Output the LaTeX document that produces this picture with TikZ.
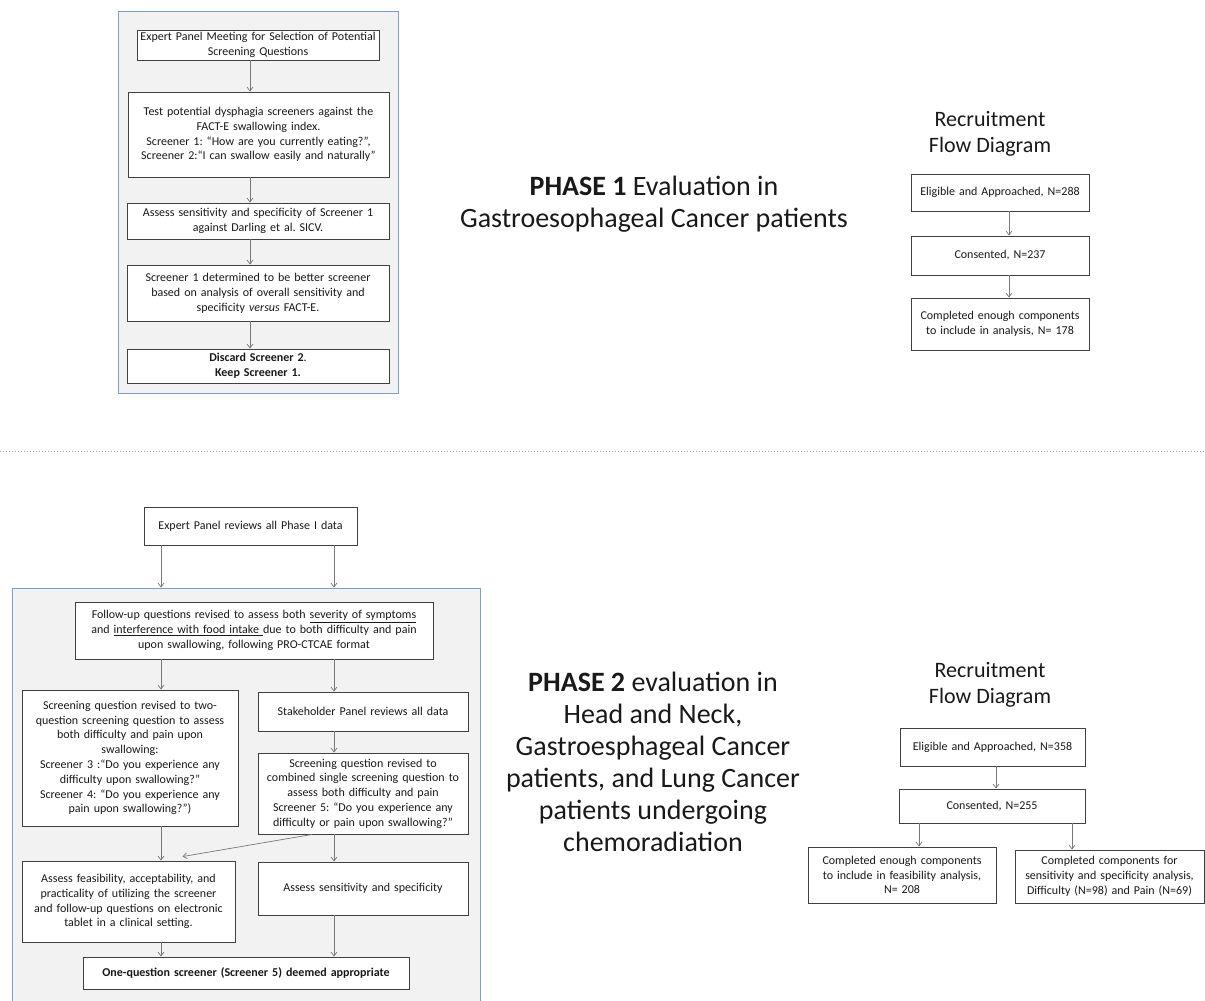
\documentclass[tikz,border=0pt]{standalone}
\usepackage{fontspec}
\setmainfont{Carlito}
\frenchspacing
\usetikzlibrary{arrows.meta, positioning}

\definecolor{framblue}{RGB}{125,158,200}
\definecolor{framfill}{RGB}{242,242,242}
\definecolor{boxline}{RGB}{64,64,64}
\definecolor{arrgray}{RGB}{120,120,120}
\definecolor{txt}{RGB}{25,25,25}

\tikzset{
    box/.style={draw=boxline, line width=0.9pt, fill=white, align=center, inner sep=0pt,
        text=txt, font=\fontsize{12}{14.8}\selectfont},
    frame/.style={draw=framblue, line width=0.8pt, fill=framfill, inner sep=0pt},
    arr/.style={draw=arrgray, line width=0.7pt, -{Straight Barb[length=4pt,width=6pt]}},
    bigtxt/.style={align=center, text=txt, font=\fontsize{28}{32}\selectfont},
    heading/.style={align=center, text=txt, font=\fontsize{22}{26}\selectfont},
}

\begin{document}
\begin{tikzpicture}[x=1pt, y=-1pt]
    \useasboundingbox (0,0) rectangle (1205,1001);

    % phase 1
    \node[frame, minimum width=280pt, minimum height=382pt] (f1) at (258,202) {};
    \node[box, minimum width=242pt, minimum height=30pt, text width=238pt] (p1a) at (258,45)
        {Expert Panel Meeting for Selection of Potential\\Screening Questions};
    \node[box, minimum width=261pt, minimum height=85pt, text width=257pt] (p1b) at (258.5,134.5)
        {Test potential dysphagia screeners against the\\FACT-E swallowing index.\\Screener 1: “How are you currently eating?”,\\Screener 2:“I can swallow easily and naturally”};
    \node[box, minimum width=262pt, minimum height=36pt, text width=258pt] (p1c) at (258,221)
        {Assess sensitivity and specificity of Screener 1\\against Darling et al. SICV.};
    \node[box, minimum width=262pt, minimum height=56pt, text width=258pt] (p1d) at (258,293)
        {Screener 1 determined to be better screener\\based on analysis of overall sensitivity and\\specificity \textit{versus} FACT-E.};
    \node[box, minimum width=262pt, minimum height=34pt, text width=258pt] (p1e) at (258,366)
        {\textbf{Discard Screener 2}.\\\textbf{Keep Screener 1.}};

    \coordinate (p1x) at (250,0);
    \draw[arr] (p1a.south -| p1x) -- (p1b.north -| p1x);
    \draw[arr] (p1b.south -| p1x) -- (p1c.north -| p1x);
    \draw[arr] (p1c.south -| p1x) -- (p1d.north -| p1x);
    \draw[arr] (p1d.south -| p1x) -- (p1e.north -| p1x);

    \node[bigtxt] (ph1) at (654,204) {\textbf{PHASE 1} Evaluation in\\Gastroesophageal Cancer patients};

    \node[heading] (rt1) at (990,134) {Recruitment\\Flow Diagram};
    \node[box, minimum width=178pt, minimum height=37pt, text width=174pt] (r1a) at (1000,192.5)
        {Eligible and Approached, N=288};
    \node[box, minimum width=178pt, minimum height=39pt, text width=174pt] (r1b) at (1000,255.5)
        {Consented, N=237};
    \node[box, minimum width=178pt, minimum height=52pt, text width=174pt] (r1c) at (1000,324)
        {Completed enough components\\to include in analysis, N= 178};

    \coordinate (r1x) at (1009,0);
    \draw[arr] (r1a.south -| r1x) -- (r1b.north -| r1x);
    \draw[arr] (r1b.south -| r1x) -- (r1c.north -| r1x);

    % divider
    \draw[arrgray!70, line width=1pt, dotted] (0,451) -- (1205,451);

    % phase 2
    \node[box, minimum width=213pt, minimum height=38pt, text width=209pt] (p2a) at (250.5,526)
        {Expert Panel reviews all Phase I data};
    \node[frame, minimum width=468pt, minimum height=418pt] (f2) at (246,797) {};
    \node[box, minimum width=358pt, minimum height=57pt, text width=354pt] (p2b) at (254,630.5)
        {Follow-up questions revised to assess both \underline{severity of symptoms}\\and \underline{interference with food intake }due to both difficulty and pain\\upon swallowing, following PRO-CTCAE format};
    \node[box, minimum width=216pt, minimum height=136pt, text width=212pt] (p2c) at (130,758)
        {Screening question revised to two-\\question screening question to assess\\both difficulty and pain upon\\swallowing:\\Screener 3 :“Do you experience any\\difficulty upon swallowing?”\\Screener 4: “Do you experience any\\pain upon swallowing?”)};
    \node[box, minimum width=210pt, minimum height=39pt, text width=206pt] (p2d) at (363,711.5)
        {Stakeholder Panel reviews all data};
    \node[box, minimum width=210pt, minimum height=81pt, text width=206pt] (p2e) at (363,793.5)
        {Screening question revised to\\combined single screening question to\\assess both difficulty and pain\\Screener 5: “Do you experience any\\difficulty or pain upon swallowing?”};
    \node[box, minimum width=213pt, minimum height=81pt, text width=209pt] (p2f) at (128.5,901.5)
        {Assess feasibility, acceptability, and\\practicality of utilizing the screener\\and follow-up questions on electronic\\tablet in a clinical setting.};
    \node[box, minimum width=210pt, minimum height=53pt, text width=206pt] (p2g) at (363,888.5)
        {Assess sensitivity and specificity};
    \node[box, minimum width=326pt, minimum height=32pt, text width=322pt] (p2h) at (246,973)
        {\textbf{One-question screener (Screener 5) deemed appropriate}};

    \coordinate (colL) at (161,0);
    \coordinate (colR) at (334,0);
    \coordinate (dg) at (312,0);
    \draw[arr] (p2a.south -| colL) -- (f2.north -| colL);
    \draw[arr] (p2a.south -| colR) -- (f2.north -| colR);
    \draw[arr] (p2b.south -| colL) -- (p2c.north -| colL);
    \draw[arr] (p2b.south -| colR) -- (p2d.north -| colR);
    \draw[arr] (p2d.south -| colR) -- (p2e.north -| colR);
    \draw[arr] (p2c.south -| colL) -- (p2f.north -| colL);
    \draw[arr] (p2e.south -| dg) -- ([xshift=54pt,yshift=4pt]p2f.north);
    \draw[arr] (p2e.south -| colR) -- (p2g.north -| colR);
    \draw[arr] (p2f.south -| colL) -- (p2h.north -| colL);
    \draw[arr] (p2g.south -| colR) -- (p2h.north -| colR);

    \node[bigtxt] (ph2) at (653,762)
        {\textbf{PHASE 2} evaluation in\\Head and Neck,\\Gastroesphageal Cancer\\patients, and Lung Cancer\\patients undergoing\\chemoradiation};

    \node[heading] (rt2) at (990,685) {Recruitment\\Flow Diagram};
    \node[box, minimum width=185pt, minimum height=38pt, text width=181pt] (r2a) at (992.5,747)
        {Eligible and Approached, N=358};
    \node[box, minimum width=186pt, minimum height=34pt, text width=182pt] (r2b) at (992,806)
        {Consented, N=255};
    \node[box, minimum width=188pt, minimum height=56pt, text width=186pt] (r2c) at (902,875)
        {Completed enough components\\to include in feasibility analysis,\\N= 208};
    \node[box, minimum width=189pt, minimum height=53pt, text width=188pt] (r2d) at (1109.5,876.5)
        {Completed components for\\sensitivity and specificity analysis,\\Difficulty (N=98) and Pain (N=69)};

    \coordinate (r2x) at (996,0);
    \coordinate (r2l) at (919,0);
    \coordinate (r2r) at (1072,0);
    \draw[arr] (r2a.south -| r2x) -- (r2b.north -| r2x);
    \draw[arr] (r2b.south -| r2l) -- (r2c.north -| r2l);
    \draw[arr] (r2b.south -| r2r) -- (r2d.north -| r2r);
\end{tikzpicture}
\end{document}
